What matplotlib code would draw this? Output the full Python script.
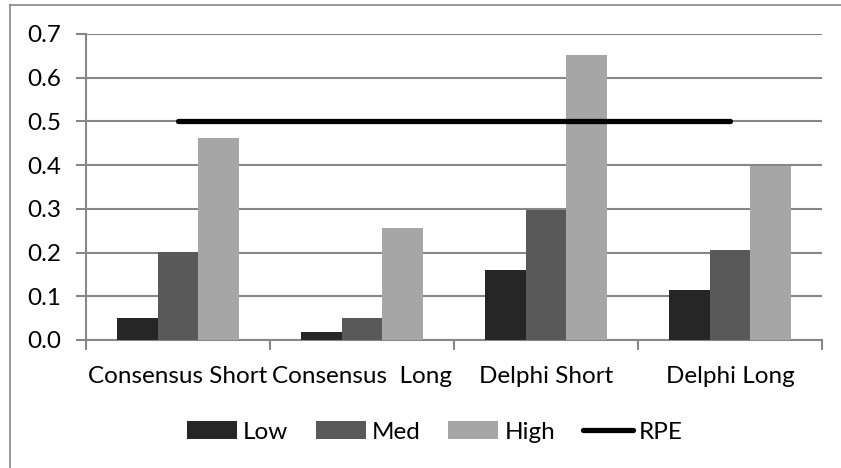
import numpy as np
import matplotlib
matplotlib.use('Agg')
from matplotlib import pyplot as plt
from matplotlib.lines import Line2D

categories = ['Consensus Short', 'Consensus  Long', 'Delphi Short', 'Delphi Long']
low = [0.051, 0.018, 0.160, 0.115]
med = [0.202, 0.051, 0.298, 0.207]
high = [0.461, 0.256, 0.651, 0.399]
rpe = [0.5, 0.5, 0.5, 0.5]
y_ticks = [0.0, 0.1, 0.2, 0.3, 0.4, 0.5, 0.6, 0.7]

plt.rcParams['font.family'] = ['Lato', 'DejaVu Sans']
FS = 17.5
GRID = '#878787'


def main():
	fig = plt.figure(figsize=(8.41, 4.68), dpi=100)
	ax = fig.add_axes([86 / 841, 1 - 340 / 468, (822 - 86) / 841, (340 - 34) / 468])

	x = np.arange(len(categories))
	w = 0.2222
	b1 = ax.bar(x - w, low, w, color='#262626', label='Low', zorder=3)
	b2 = ax.bar(x, med, w, color='#595959', label='Med', zorder=3)
	b3 = ax.bar(x + w, high, w, color='#a6a6a6', label='High', zorder=3)
	l1, = ax.plot(x, rpe, color='black', lw=3.8, solid_capstyle='round', label='RPE', zorder=4)

	ax.set_xlim(-0.5, len(categories) - 0.5)
	ax.set_ylim(0, 0.7)
	ax.set_yticks(y_ticks)
	ax.set_yticklabels(['%.1f' % v for v in y_ticks])
	ax.yaxis.grid(True, color=GRID, lw=1.5, zorder=0)
	ax.set_axisbelow(True)

	ax.set_xticks(x)
	ax.set_xticklabels(categories)
	ax.set_xticks(np.arange(len(categories) + 1) - 0.5, minor=True)
	ax.tick_params(axis='x', which='major', length=0, pad=19, labelsize=FS)
	ax.tick_params(axis='x', which='minor', length=7, width=1.5, color=GRID)
	ax.tick_params(axis='y', length=7, width=1.5, color=GRID, pad=11, labelsize=FS)

	for side in ['top', 'right']:
		ax.spines[side].set_visible(False)
	for side in ['left', 'bottom']:
		ax.spines[side].set_color(GRID)
		ax.spines[side].set_linewidth(1.5)

	fig.legend([b1, b2, b3, l1], ['Low', 'Med', 'High', 'RPE'],
		loc='center', bbox_to_anchor=(0.517, 1 - 432 / 468), ncol=4, frameon=False,
		fontsize=FS, handlelength=2.05, handleheight=0.7, handletextpad=0.25,
		columnspacing=1.15)

	fig.add_artist(Line2D([10 / 841, 1], [1 - 5 / 468, 1 - 5 / 468], color='#888888', lw=1.2))
	fig.add_artist(Line2D([10 / 841, 10 / 841], [0, 1 - 5 / 468], color='#888888', lw=1.2))

	fig.savefig('out.png', dpi=100)


if __name__ == '__main__':
	main()
